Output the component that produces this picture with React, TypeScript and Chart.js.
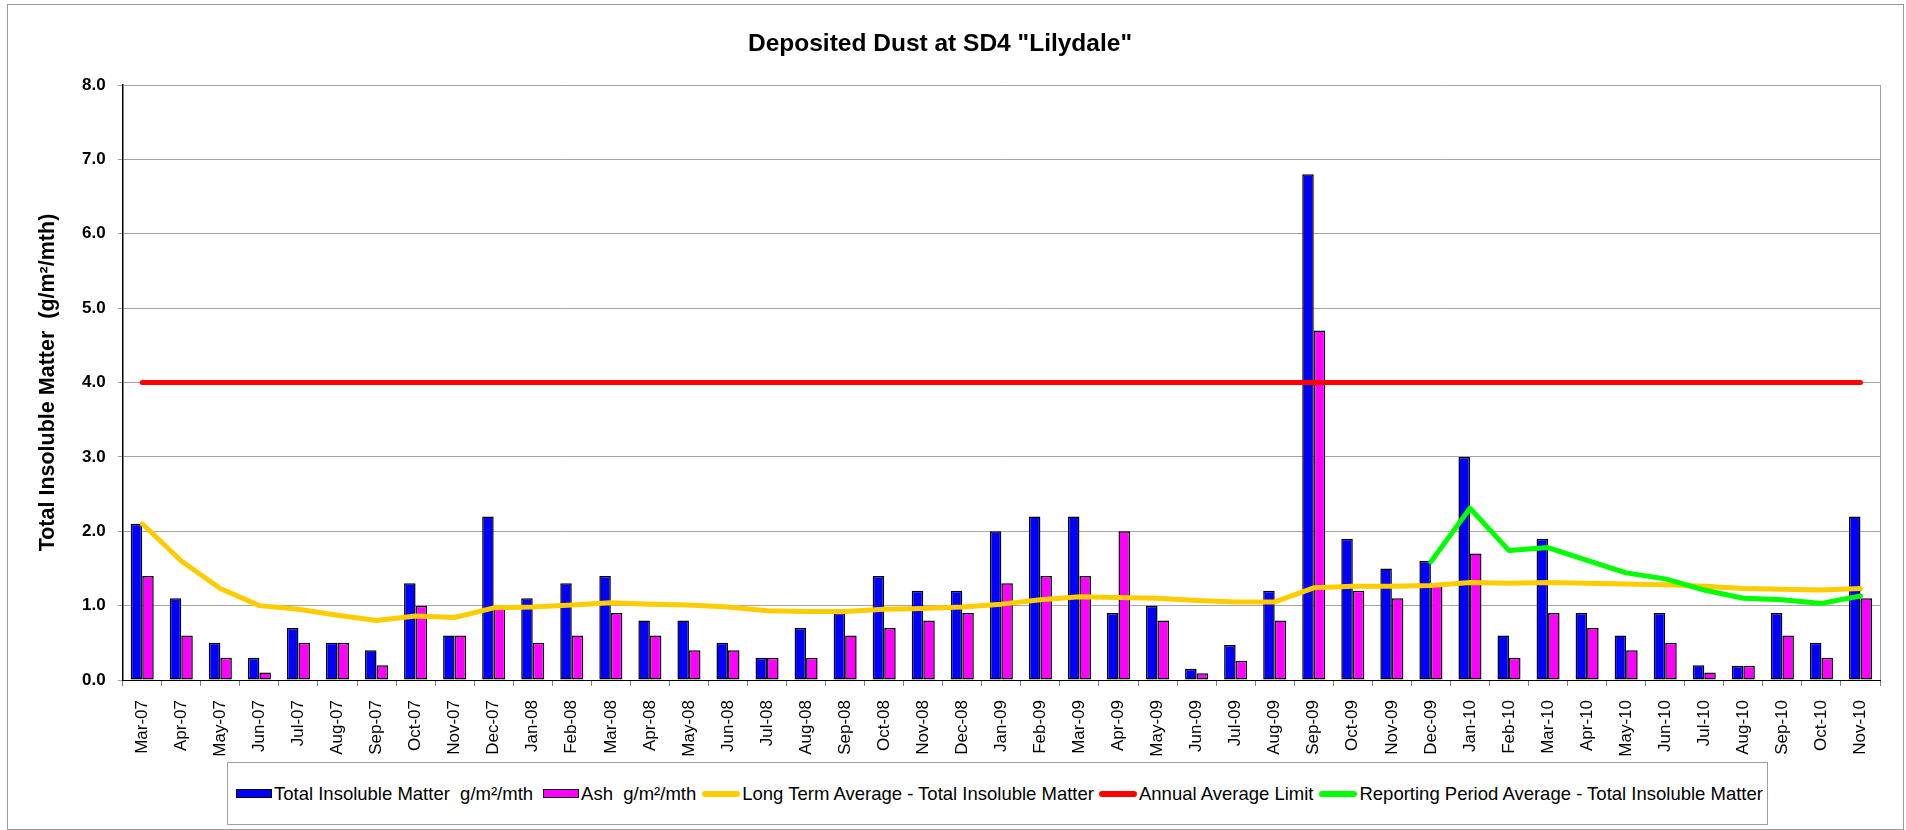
import React, { useEffect, useRef } from 'react';
import { Chart, registerables } from 'chart.js';

Chart.register(...registerables);

const months = [
  'Mar-07', 'Apr-07', 'May-07', 'Jun-07', 'Jul-07', 'Aug-07', 'Sep-07', 'Oct-07', 'Nov-07', 'Dec-07',
  'Jan-08', 'Feb-08', 'Mar-08', 'Apr-08', 'May-08', 'Jun-08', 'Jul-08', 'Aug-08', 'Sep-08', 'Oct-08', 'Nov-08', 'Dec-08',
  'Jan-09', 'Feb-09', 'Mar-09', 'Apr-09', 'May-09', 'Jun-09', 'Jul-09', 'Aug-09', 'Sep-09', 'Oct-09', 'Nov-09', 'Dec-09',
  'Jan-10', 'Feb-10', 'Mar-10', 'Apr-10', 'May-10', 'Jun-10', 'Jul-10', 'Aug-10', 'Sep-10', 'Oct-10', 'Nov-10',
];

const totalInsoluble = [
  2.1, 1.1, 0.5, 0.3, 0.7, 0.5, 0.4, 1.3, 0.6, 2.2,
  1.1, 1.3, 1.4, 0.8, 0.8, 0.5, 0.3, 0.7, 0.9, 1.4, 1.2, 1.2,
  2.0, 2.2, 2.2, 0.9, 1.0, 0.15, 0.47, 1.2, 6.8, 1.9, 1.5, 1.6,
  3.0, 0.6, 1.9, 0.9, 0.6, 0.9, 0.2, 0.19, 0.9, 0.5, 2.2,
];

const ash = [
  1.4, 0.6, 0.3, 0.1, 0.5, 0.5, 0.2, 1.0, 0.6, 1.0,
  0.5, 0.6, 0.9, 0.6, 0.4, 0.4, 0.3, 0.3, 0.6, 0.7, 0.8, 0.9,
  1.3, 1.4, 1.4, 2.0, 0.8, 0.09, 0.26, 0.8, 4.7, 1.2, 1.1, 1.3,
  1.7, 0.3, 0.9, 0.7, 0.4, 0.5, 0.1, 0.19, 0.6, 0.3, 1.1,
];

const longTermAverage = [
  2.1, 1.6, 1.23, 1.0, 0.95, 0.87, 0.8, 0.86, 0.84, 0.97,
  0.98, 1.01, 1.04, 1.02, 1.01, 0.98, 0.93, 0.92, 0.92, 0.95, 0.96, 0.98,
  1.02, 1.08, 1.12, 1.11, 1.1, 1.07, 1.05, 1.05, 1.24, 1.26, 1.26, 1.27,
  1.31, 1.3, 1.31, 1.3, 1.29, 1.28, 1.26, 1.23, 1.22, 1.21, 1.23,
];

const annualLimit = [
  4.0, 4.0, 4.0, 4.0, 4.0, 4.0, 4.0, 4.0, 4.0, 4.0,
  4.0, 4.0, 4.0, 4.0, 4.0, 4.0, 4.0, 4.0, 4.0, 4.0, 4.0, 4.0,
  4.0, 4.0, 4.0, 4.0, 4.0, 4.0, 4.0, 4.0, 4.0, 4.0, 4.0, 4.0,
  4.0, 4.0, 4.0, 4.0, 4.0, 4.0, 4.0, 4.0, 4.0, 4.0, 4.0,
];

const reportingAverage = [
  null, null, null, null, null, null, null, null, null, null,
  null, null, null, null, null, null, null, null, null, null, null, null,
  null, null, null, null, null, null, null, null, null, null, null, 1.59,
  2.31, 1.74, 1.78, 1.61, 1.44, 1.36, 1.21, 1.1, 1.08, 1.03, 1.13,
];

const yTicks = ['0.0', '1.0', '2.0', '3.0', '4.0', '5.0', '6.0', '7.0', '8.0'];

const seriesNames = [
  'Total Insoluble Matter  g/m²/mth',
  'Ash  g/m²/mth',
  'Long Term Average - Total Insoluble Matter',
  'Annual Average Limit',
  'Reporting Period Average - Total Insoluble Matter',
];

const FONT = "'Liberation Sans', Arial, Helvetica, sans-serif";

const plotFrame = {
  id: 'plotFrame',
  beforeDatasetsDraw(chart: any) {
    const { ctx, chartArea } = chart;
    ctx.save();
    ctx.strokeStyle = '#a0a0a0';
    ctx.lineWidth = 1;
    ctx.beginPath();
    ctx.moveTo(Math.round(chartArea.right) + 0.5, chartArea.top);
    ctx.lineTo(Math.round(chartArea.right) + 0.5, chartArea.bottom);
    ctx.stroke();
    ctx.restore();
  },
};

function Swatch({ kind, color }: { kind: 'bar' | 'line'; color: string }) {
  if (kind === 'bar') {
    return (
      <span
        style={{
          display: 'inline-block',
          width: 36,
          height: 9,
          boxSizing: 'border-box',
          background: color,
          border: '1.5px solid #000',
          marginRight: 2,
          flex: '0 0 auto',
        }}
      />
    );
  }
  return (
    <span
      style={{
        display: 'inline-block',
        width: 38,
        height: 6,
        borderRadius: 3,
        background: color,
        marginRight: 2,
        flex: '0 0 auto',
      }}
    />
  );
}

export default function App() {
  const canvasRef = useRef<HTMLCanvasElement | null>(null);

  useEffect(() => {
    if (!canvasRef.current) return;
    const chart = new Chart(canvasRef.current, {
      type: 'bar',
      data: {
        labels: months,
        datasets: [
          {
            type: 'line',
            label: seriesNames[4],
            data: reportingAverage as any,
            borderColor: '#00FF00',
            backgroundColor: '#00FF00',
            borderWidth: 5,
            pointRadius: 0,
            tension: 0,
            borderJoinStyle: 'round',
            borderCapStyle: 'round',
            spanGaps: false,
            order: 0,
          },
          {
            type: 'line',
            label: seriesNames[3],
            data: annualLimit,
            borderColor: '#FF0000',
            backgroundColor: '#FF0000',
            borderWidth: 5,
            pointRadius: 0,
            tension: 0,
            borderCapStyle: 'round',
            order: 1,
          },
          {
            type: 'line',
            label: seriesNames[2],
            data: longTermAverage,
            borderColor: '#FFCC00',
            backgroundColor: '#FFCC00',
            borderWidth: 5,
            pointRadius: 0,
            tension: 0,
            borderJoinStyle: 'round',
            borderCapStyle: 'round',
            order: 2,
          },
          {
            type: 'bar',
            label: seriesNames[0],
            data: totalInsoluble,
            backgroundColor: '#0000FF',
            borderColor: '#000000',
            borderWidth: 1.5,
            borderSkipped: false,
            categoryPercentage: 0.59,
            barPercentage: 1.0,
            order: 3,
          },
          {
            type: 'bar',
            label: seriesNames[1],
            data: ash,
            backgroundColor: '#FF00FF',
            borderColor: '#000000',
            borderWidth: 1.5,
            borderSkipped: false,
            categoryPercentage: 0.59,
            barPercentage: 1.0,
            order: 4,
          },
        ] as any,
      },
      options: {
        animation: false,
        responsive: true,
        maintainAspectRatio: false,
        layout: { padding: { left: 0, right: 26, top: 0, bottom: 0 } },
        plugins: {
          legend: { display: false },
          tooltip: { enabled: false },
          title: {
            display: true,
            text: 'Deposited Dust at SD4 "Lilydale"',
            color: '#000',
            font: { family: FONT, size: 24.5, weight: 'bold' },
            padding: { top: 29.3, bottom: 26.3 },
          },
        },
        scales: {
          x: {
            offset: true,
            grid: {
              display: true,
              drawOnChartArea: false,
              drawTicks: true,
              tickLength: 6,
              color: '#808080',
              offset: true,
            },
            border: { display: true, color: '#000', width: 1 },
            ticks: {
              autoSkip: false,
              minRotation: 90,
              maxRotation: 90,
              padding: 14,
              color: '#000',
              font: { family: FONT, size: 17 },
            },
            afterFit(scale: any) {
              scale.height = 150;
            },
          },
          y: {
            min: 0,
            max: 8,
            ticks: {
              stepSize: 1,
              padding: 12,
              color: '#000',
              font: { family: FONT, size: 17, weight: 'bold' },
              callback: (_v: any, i: number) => yTicks[i],
            },
            grid: {
              color: '#a6a6a6',
              lineWidth: 1,
              drawTicks: true,
              tickLength: 5,
            },
            border: { display: true, color: '#000', width: 1.5 },
            title: {
              display: true,
              text: 'Total Insoluble Matter  (g/m²/mth)',
              color: '#000',
              font: { family: FONT, size: 21.5, weight: 'bold' },
              padding: { top: 35, bottom: 0 },
            },
            afterFit(scale: any) {
              scale.width = 122.7;
            },
          },
        },
      },
      plugins: [plotFrame],
    });
    return () => chart.destroy();
  }, []);

  const legendItems: { kind: 'bar' | 'line'; color: string; name: string; gap: number }[] = [
    { kind: 'bar', color: '#0000FF', name: seriesNames[0], gap: 10 },
    { kind: 'bar', color: '#FF00FF', name: seriesNames[1], gap: 6 },
    { kind: 'line', color: '#FFCC00', name: seriesNames[2], gap: 5 },
    { kind: 'line', color: '#FF0000', name: seriesNames[3], gap: 6 },
    { kind: 'line', color: '#00FF00', name: seriesNames[4], gap: 0 },
  ];

  return (
    <div style={{ position: 'absolute', left: 0, top: 0, width: 1906, height: 830, background: '#fff', overflow: 'hidden' }}>
      <div
        style={{
          position: 'absolute',
          left: 7,
          top: 4,
          width: 1897,
          height: 826,
          border: '1px solid #9a9a9a',
          boxSizing: 'border-box',
        }}
      />
      <div style={{ position: 'absolute', left: 0, top: 0, width: 1906, height: 830 }}>
        <canvas ref={canvasRef} />
      </div>
      <div
        style={{
          position: 'absolute',
          left: 227,
          top: 762,
          width: 1541,
          height: 63,
          border: '1px solid #a0a0a0',
          boxSizing: 'border-box',
          background: '#fff',
          display: 'flex',
          alignItems: 'center',
          paddingLeft: 8,
          fontFamily: FONT,
          fontSize: 18.5,
          color: '#000',
          whiteSpace: 'pre',
        }}
      >
        {legendItems.map((it) => (
          <span key={it.name} style={{ display: 'flex', alignItems: 'center', marginRight: it.gap }}>
            <Swatch kind={it.kind} color={it.color} />
            <span style={{ whiteSpace: 'pre' }}>{it.name}</span>
          </span>
        ))}
      </div>
    </div>
  );
}
